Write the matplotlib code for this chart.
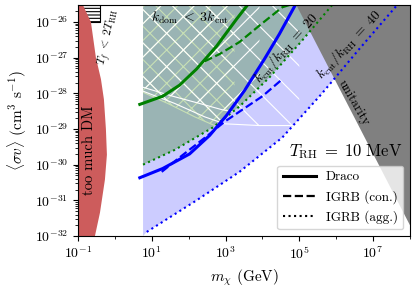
import matplotlib
matplotlib.use('Agg')
import matplotlib.pyplot as plt
from matplotlib.ticker import NullFormatter

plt.rcParams.update({
    'font.family': 'serif', 'font.serif': ['cmr10'], 'mathtext.fontset': 'cm',
    'axes.unicode_minus': False, 'axes.formatter.use_mathtext': True,
    'hatch.linewidth': 0.8,
})

# ---------------- data ----------------
# "too much DM" boundary
red_sv = [3e-26, 1e-26, 1e-27, 2.5e-28, 6.8e-29, 1e-29, 1.9e-30, 3.8e-31, 4.5e-32, 1e-32]
red_m = [0.136, 0.224, 0.306, 0.419, 0.504, 0.571, 0.608, 0.537, 0.394, 0.288]
# T_f < 2 T_RH region
tf_m = [0.1, 0.39]
tf_sv_low = 1e-26
# k_cut/k_RH = 20 (green dotted)
kd20_m = [5.8, 42, 450, 2400, 1.55e4, 1.1e5, 7.8e5]
kd20_sv = [1e-30, 2.6e-30, 1.1e-29, 4.3e-29, 2.8e-28, 2.75e-27, 3e-26]
# k_cut/k_RH = 40 (blue dotted)
kd40_m = [7.3, 164, 2390, 3.47e4, 3.9e5, 4.2e6, 4.5e7]
kd40_sv = [1.3e-32, 1e-31, 6.3e-31, 5.8e-30, 9.3e-29, 1.74e-27, 3e-26]
# Draco limits
draco_g_m = [4.74, 19.8, 57, 164, 571, 1980, 3940]
draco_g_sv = [4.9e-29, 8.3e-29, 1.7e-28, 4.8e-28, 2.1e-27, 1.2e-26, 3e-26]
draco_b_m = [4.74, 19.8, 106, 370, 1064, 3270, 1.13e4, 2.88e4, 7.8e4]
draco_b_sv = [4.3e-31, 7.8e-31, 2.0e-30, 6.6e-30, 2.4e-29, 1.2e-28, 9.1e-28, 4.6e-27, 3e-26]
# IGRB (con.) limits
igrb_g_m = [270, 689, 2390, 1e4, 3.47e4, 5.4e4]
igrb_g_sv = [7.9e-28, 1.26e-27, 2.75e-27, 9.3e-27, 2.6e-26, 3e-26]
igrb_b_m = [18.6, 57, 306, 940, 2880, 1e4, 3.47e4]
igrb_b_sv = [6.3e-31, 1.6e-30, 6.2e-30, 1.6e-29, 3.5e-29, 8.3e-29, 2.5e-28]
# hatched-region boundaries
hA_m = [5.8, 37, 198, 780, 3270, 8300]
hA_sv = [1.48e-28, 8.3e-29, 5.2e-29, 3.5e-29, 2.6e-29, 2.1e-29]
hB_m = [5.8, 42, 270, 940, 8300, 1e5]
hB_sv = [1.15e-28, 5.2e-29, 2.2e-29, 1.4e-29, 1.25e-29, 1.25e-29]
hL_m = [5.8, 30.6, 145, 505, 1750]
hL_sv = [1.07e-28, 4.9e-29, 2.2e-29, 1.25e-29, 7.9e-30]
# unitarity
unit_m = [8.3e4, 1e8]
unit_sv = [3e-26, 2e-32]

xmin, xmax = 1e-1, 1e8
ymin, ymax = 1e-32, 3e-26
m_left = 5.8
x_major = [1e-1, 1e1, 1e3, 1e5, 1e7]
x_minor = [1, 1e2, 1e4, 1e6, 1e8]
y_major = [1e-32, 1e-31, 1e-30, 1e-29, 1e-28, 1e-27, 1e-26]

# ---------------- figure ----------------
fig = plt.figure(figsize=(4.16, 2.87), dpi=100)
ax = fig.add_axes([0.1875, 0.1777, 0.798, 0.8049])
ax.set_xscale('log'); ax.set_yscale('log')

lav = ax.fill([m_left, m_left] + kd40_m, [ymax, ymin] + kd40_sv,
              facecolor='#ccccff', edgecolor='none', zorder=1)[0]
teal = ax.fill([m_left] + kd20_m, [ymax] + kd20_sv,
               facecolor='#9ab4b4', edgecolor='none', zorder=1.1)[0]

pl = ax.fill_between(hL_m, hL_sv, ymax, facecolor='none', edgecolor='#c8e0b4',
                     hatch='xx', lw=0, zorder=1.2)
pl.set_clip_path(teal)
l, = ax.plot(hL_m, hL_sv, color='#c8e0b4', lw=0.8, zorder=1.2)
l.set_clip_path(teal)

hb = ax.fill_between(hB_m, hB_sv, ymax, facecolor='none', edgecolor='white',
                     hatch='\\', lw=0, zorder=1.3)
hb.set_clip_path(lav)
l, = ax.plot(hB_m, hB_sv, color='white', lw=0.8, zorder=1.3)
l.set_clip_path(lav)
ha = ax.fill_between(hA_m, hA_sv, ymax, facecolor='none', edgecolor='white',
                     hatch='/', lw=0, zorder=1.3)
ha.set_clip_path(teal)
l, = ax.plot(hA_m, hA_sv, color='white', lw=0.8, zorder=1.3)
l.set_clip_path(teal)

ax.fill_between(tf_m, tf_sv_low, ymax, facecolor='none', edgecolor='black',
                hatch='-----', lw=0.8, zorder=1.8)
ax.fill_betweenx(red_sv, xmin, red_m, facecolor='#cd5c5c', edgecolor='none', zorder=2)
ax.fill(unit_m + [xmax], unit_sv + [ymax], facecolor='#808080', edgecolor='none', zorder=2)

ax.plot(kd20_m, kd20_sv, color='green', ls=':', lw=1.5, zorder=3)
ax.plot(kd40_m, kd40_sv, color='blue', ls=':', lw=1.5, zorder=3)
ax.plot(draco_g_m, draco_g_sv, color='green', lw=2.2, zorder=3)
ax.plot(draco_b_m, draco_b_sv, color='blue', lw=2.2, zorder=3)
ax.plot(igrb_g_m, igrb_g_sv, color='green', ls='--', lw=1.6, zorder=3)
ax.plot(igrb_b_m, igrb_b_sv, color='blue', ls='--', lw=1.6, zorder=3)

# texts
kw = dict(ha='center', va='center', rotation_mode='anchor', zorder=4)
ax.text(0.198, 10**-29.6, 'too much DM', rotation=90, fontsize=10.5, **kw)
ax.text(0.68, 10**-26.42, r'$T_f\;<\;2T_{\rm RH}$', rotation=78, fontsize=8.5, **kw)
ax.text(112, 10**-25.89, r'$k_{\rm dom}\;<\;3k_{\rm cut}$', fontsize=10, **kw)
ax.text(10**4.64, 10**-26.72, r'$k_{\rm cut}/k_{\rm RH}\;=\;20$', rotation=48, fontsize=10, **kw)
ax.text(10**6.34, 10**-26.62, r'$k_{\rm cut}/k_{\rm RH}\;=\;40$', rotation=47, fontsize=10, **kw)
ax.text(10**6.46, 10**-28.28, 'unitarity', rotation=-60, fontsize=9.5, **kw)
ax.text(0.807, 0.364, r'$T_{\rm RH}\;=\;10\ \mathrm{MeV}$', transform=ax.transAxes,
        ha='center', va='center', fontsize=12, zorder=4)

ax.plot([], [], 'k-', lw=2.2, label='Draco')
ax.plot([], [], 'k--', lw=1.6, label='IGRB (con.)')
ax.plot([], [], 'k:', lw=1.5, label='IGRB (agg.)')
leg = ax.legend(loc='lower right', fontsize=9.5, handlelength=2.5, framealpha=0.8)
leg.set_zorder(5)

ax.set_xticks(x_major)
ax.set_xticks(x_minor, minor=True)
ax.xaxis.set_minor_formatter(NullFormatter())
ax.set_yticks(y_major)
ax.set_yticks([k * v for v in y_major[:-1] for k in range(2, 10)] + [2e-26], minor=True)
ax.yaxis.set_minor_formatter(NullFormatter())
ax.set_xlim(xmin, xmax); ax.set_ylim(ymin, ymax)
ax.tick_params(which='major', length=3.5, width=0.8, labelsize=10)
ax.tick_params(which='minor', length=2, width=0.6)
for s in ax.spines.values():
    s.set_zorder(6)

ax.set_xlabel(r'$m_\chi$ (GeV)', fontsize=11)
ax.set_ylabel(r'$\langle\sigma v\rangle$ (cm$^3$ s$^{-1}$)', fontsize=11)

fig.savefig('out.png', dpi=100)
